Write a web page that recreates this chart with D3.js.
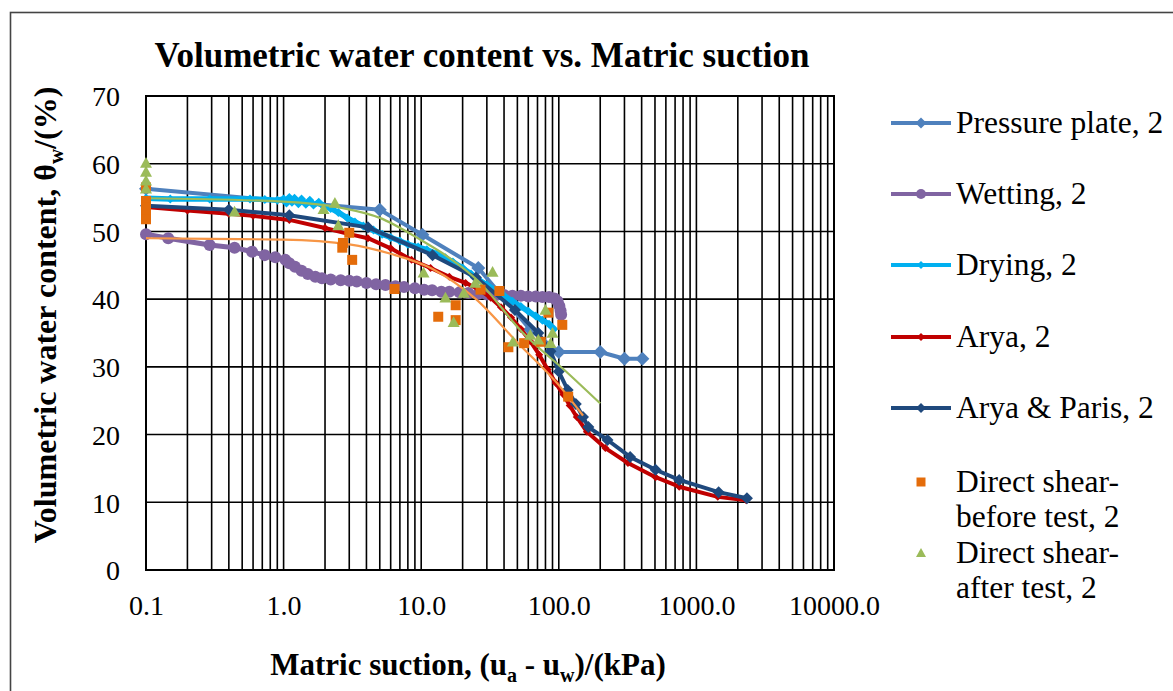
<!DOCTYPE html>
<html><head><meta charset="utf-8">
<script src="https://cdn.jsdelivr.net/npm/d3@7"></script>
<style>
html,body{margin:0;padding:0;background:#fff;overflow:hidden;}
text{font-family:"Liberation Serif","Times New Roman",serif;fill:#000;}
</style></head>
<body>
<svg id="chart" width="1173" height="691"></svg>
<script>
// ---------- DATA ----------
const xTickValues = [0.1, 1, 10, 100, 1000, 10000];
const xTickLabels = ["0.1", "1.0", "10.0", "100.0", "1000.0", "10000.0"];
const yTickValues = [0, 10, 20, 30, 40, 50, 60, 70];

const pressurePlate = [[0.1,56.3],[5.0,53.2],[10.2,49.5],[26,44.6],[62,35.5],[100,32.2],[200,32.2],[300,31.2],[405,31.2]];

const wetting = [[0.1,49.6],[0.145,49.0],[0.29,48.0],[0.44,47.6],[0.59,47.0],[0.73,46.5],[0.87,46.2],[1.03,45.8],[1.1,45.3],[1.21,44.8],[1.35,44.2],[1.5,43.7],[1.7,43.3],[1.9,43.1],[2.2,42.9],[2.6,42.8],[3.0,42.7],[3.4,42.6],[4.0,42.4],[4.7,42.2],[5.5,42.1],[6.5,41.9],[7.5,41.8],[9,41.6],[10.5,41.4],[12,41.3],[14,41.1],[16,41.1],[19,41.0],[22,40.9],[26,40.8],[30,40.7],[35,40.6],[40,40.6],[46,40.5],[53,40.5],[60,40.4],[68,40.4],[76,40.3],[85,40.3],[93,40.1],[98,39.7],[101,39.0],[103,38.3],[104,37.7]];

const drying = [[0.1,54.9],[0.15,54.8],[0.29,54.8],[0.57,54.8],[0.73,54.7],[0.9,54.6],[1.0,54.8],[1.05,54.2],[1.1,55.0],[1.15,54.3],[1.2,54.9],[1.28,54.1],[1.35,54.8],[1.45,54.0],[1.55,54.6],[1.65,53.9],[1.8,54.3],[1.95,53.7],[2.2,53.4],[2.5,52.8],[2.9,52.0],[3.3,51.4],[3.8,50.8],[4.5,50.2],[5.2,49.6],[6,49.1],[7,48.6],[8,48.1],[9.5,47.7],[11,47.3],[13,46.7],[15,46.1],[17,45.5],[20,44.6],[23,43.7],[26,42.9],[30,42.1],[35,41.3],[40,40.5],[46,39.7],[53,38.9],[60,38.2],[68,37.5],[76,36.9],[85,36.3],[92,35.6]];

const arya = [[0.1,53.6],[0.2,53.1],[0.4,52.6],[0.6,52.3],[1.1,51.7],[2,50.5],[3,49.6],[4.1,49.0],[6,47.5],[8.5,45.8],[11.7,44.6],[16,43.3],[21,42.4],[26,41.5],[32,40.2],[38,38.8],[45,37.3],[53,35.6],[62,33.8],[72,31.8],[83,29.6],[95,27.6],[108,25.9],[120,24.3],[135,22.6],[160,20.4],[218,18.0],[318,15.8],[505,13.7],[750,12.3],[1430,10.8],[2300,10.3]];

const aryaParis = [[0.1,53.8],[0.4,53.2],[1.1,52.4],[4.1,50.6],[12.1,46.5],[25,43.2],[48,38.4],[71,35.0],[87,32.3],[100,29.3],[116,26.6],[133,24.5],[150,22.6],[164,21.1],[226,19.2],[330,16.7],[505,14.8],[750,13.3],[1450,11.5],[2330,10.6]];

const shearBefore = [[0.1,56.5],[0.1,54.5],[0.1,53.5],[0.1,52.5],[0.1,51.8],[2.67,47.6],[2.7,48.3],[3.0,49.8],[3.15,45.8],[6.4,41.5],[13.3,37.4],[17.8,39.1],[17.8,36.9],[27,41.4],[37,41.2],[43,32.9],[56,33.5],[74,33.7],[84,38.0],[106,36.2],[117,25.6]];

const shearAfter = [[0.1,60.1],[0.1,58.8],[0.1,57.5],[0.1,56.3],[0.44,52.9],[1.95,53.3],[2.36,54.2],[2.5,50.9],[10.4,43.9],[15,40.2],[17.2,36.6],[20.4,40.9],[24.7,42.4],[33,44.0],[46.4,33.7],[62,34.7],[71,34.0],[80,38.4],[87,33.5],[90,35.0]];

const trendBefore = [[0.1,49.0],[0.3,48.9],[1,48.8],[3,48.1],[6,46.7],[12,44.5],[25,40.0],[50,33.6],[100,27.3],[150,22.8]];
const trendAfter = [[0.1,54.9],[1,54.4],[2.6,53.5],[5,52.0],[10,48.7],[16,46.1],[25.6,42.8],[55,35.0],[116,29.1],[200,24.6]];

const seriesNames = ["Pressure plate, 2","Wetting, 2","Drying, 2","Arya, 2","Arya & Paris, 2"];
const seriesColors = ["#4F81BD","#8064A2","#00B0F0","#C00000","#1F497D"];
const shearNames = [["Direct shear-","before test, 2"],["Direct shear-","after test, 2"]];
const shearColors = ["#E46C0A","#9BBB59"];
const trendColors = ["#F79646","#9BBB59"];

// ---------- CHART ----------
const svg = d3.select("#chart");
const L = 146, R = 834, T = 96, B = 570;
const x = d3.scaleLog().domain([0.1, 10000]).range([L, R]);
const y = d3.scaleLinear().domain([0, 70]).range([B, T]);

// outer frame
svg.append("rect").attr("x",10.5).attr("y",12.5).attr("width",1200).attr("height",700)
  .attr("fill","none").attr("stroke","#444").attr("stroke-width",1.6);

// title
svg.append("text").attr("x",482).attr("y",67).attr("text-anchor","middle")
  .style("font-size","35px").style("font-weight","bold")
  .text("Volumetric water content vs. Matric suction");

// gridlines
const grid = svg.append("g");
const minor = [];
for (let e = -1; e < 4; e++) for (let m = 1; m < 10; m++) minor.push(m * Math.pow(10, e));
minor.push(10000);
grid.selectAll("line.v").data(minor).join("line")
  .attr("x1", d => x(d)).attr("x2", d => x(d)).attr("y1", T).attr("y2", B)
  .attr("stroke","#000").attr("stroke-width",1.6);
grid.selectAll("line.h").data(yTickValues).join("line")
  .attr("x1", L).attr("x2", R).attr("y1", d => y(d)).attr("y2", d => y(d))
  .attr("stroke","#000").attr("stroke-width",1.6);
svg.append("rect").attr("x",L).attr("y",T).attr("width",R-L).attr("height",B-T)
  .attr("fill","none").attr("stroke","#000").attr("stroke-width",2);

// axes
const xAxis = d3.axisBottom(x).tickValues(xTickValues).tickSize(0)
  .tickFormat((d,i) => xTickLabels[i]);
const gx = svg.append("g").attr("transform",`translate(0,${B})`).call(xAxis);
gx.select(".domain").remove();
gx.selectAll("text").attr("dy",0).attr("y",45).style("font-size","28px").style("font-family","Liberation Serif");

const yAxis = d3.axisLeft(y).tickValues(yTickValues).tickSize(0);
const gy = svg.append("g").attr("transform",`translate(${L},0)`).call(yAxis);
gy.select(".domain").remove();
gy.selectAll("text").attr("x",-26).attr("dy","0.35em").style("font-size","28px").style("font-family","Liberation Serif");

// axis titles
const yt = svg.append("text").attr("transform","translate(56,315) rotate(-90)")
  .attr("text-anchor","middle").style("font-size","32px").style("font-weight","bold");
yt.append("tspan").text("Volumetric water content, θ");
yt.append("tspan").attr("dy",7).style("font-size","21px").text("w");
yt.append("tspan").attr("dy",-7).text("/(%)");

const xt = svg.append("text").attr("x",468).attr("y",675)
  .attr("text-anchor","middle").style("font-size","31px").style("font-weight","bold");
xt.append("tspan").text("Matric suction, (u");
xt.append("tspan").attr("dy",7).style("font-size","20px").text("a");
xt.append("tspan").attr("dy",-7).text(" - u");
xt.append("tspan").attr("dy",7).style("font-size","20px").text("w");
xt.append("tspan").attr("dy",-7).text(")/(kPa)");

// marker paths
const diamond = r => `M0,${-r}L${r},0L0,${r}L${-r},0Z`;
const square = r => `M${-r},${-r}H${r}V${r}H${-r}Z`;
const triangle = r => `M0,${-r}L${r},${r*0.8}L${-r},${r*0.8}Z`;

const line = d3.line().x(d => x(d[0])).y(d => y(d[1]));
const smooth = d3.line().x(d => x(d[0])).y(d => y(d[1])).curve(d3.curveMonotoneX);

const plot = svg.append("g");
function drawSeries(data, color, width, markerFn, mr) {
  plot.append("path").datum(data).attr("d", line).attr("fill","none")
    .attr("stroke", color).attr("stroke-width", width).attr("stroke-linejoin","round");
  const g = plot.append("g");
  if (markerFn === "circle") {
    g.selectAll("circle").data(data).join("circle")
      .attr("cx", d => x(d[0])).attr("cy", d => y(d[1])).attr("r", mr).attr("fill", color);
  } else {
    g.selectAll("path").data(data).join("path")
      .attr("transform", d => `translate(${x(d[0])},${y(d[1])})`).attr("d", markerFn(mr)).attr("fill", color);
  }
}
drawSeries(pressurePlate, seriesColors[0], 4, diamond, 7);
drawSeries(wetting, seriesColors[1], 5, "circle", 6);
drawSeries(drying, seriesColors[2], 5.5, diamond, 4.5);
drawSeries(arya, seriesColors[3], 4, diamond, 4);
drawSeries(aryaParis, seriesColors[4], 4, diamond, 6);

// trend lines
[trendBefore, trendAfter].forEach((t,i) => {
  plot.append("path").datum(t).attr("d", smooth).attr("fill","none")
    .attr("stroke", trendColors[i]).attr("stroke-width", 2.2);
});

// scatter
plot.append("g").selectAll("path").data(shearBefore).join("path")
  .attr("transform", d => `translate(${x(d[0])},${y(d[1])})`).attr("d", square(5)).attr("fill", shearColors[0]);
plot.append("g").selectAll("path").data(shearAfter).join("path")
  .attr("transform", d => `translate(${x(d[0])},${y(d[1])})`).attr("d", triangle(6)).attr("fill", shearColors[1]);

// legend
const leg = svg.append("g");
const legY = [123, 194, 265, 337, 408];
const legMarkers = [[diamond,5.5],[ "circle",5],[diamond,4],[diamond,4],[diamond,5]];
seriesNames.forEach((n,i) => {
  leg.append("line").attr("x1",891).attr("x2",951).attr("y1",legY[i]).attr("y2",legY[i])
    .attr("stroke",seriesColors[i]).attr("stroke-width",4);
  if (legMarkers[i][0] === "circle") leg.append("circle").attr("cx",921).attr("cy",legY[i]).attr("r",5).attr("fill",seriesColors[i]);
  else leg.append("path").attr("transform",`translate(921,${legY[i]})`).attr("d",legMarkers[i][0](legMarkers[i][1])).attr("fill",seriesColors[i]);
  leg.append("text").attr("x",956).attr("y",legY[i]+10).style("font-size","31.5px").text(n);
});
const shearY = [482, 553];
shearNames.forEach((n,i) => {
  if (i === 0) leg.append("path").attr("transform",`translate(921,${shearY[i]})`).attr("d",square(4.5)).attr("fill",shearColors[i]);
  else leg.append("path").attr("transform",`translate(921,${shearY[i]})`).attr("d",triangle(5)).attr("fill",shearColors[i]);
  leg.append("text").attr("x",956).attr("y",shearY[i]+10).style("font-size","31.5px").text(n[0]);
  leg.append("text").attr("x",956).attr("y",shearY[i]+45).style("font-size","31.5px").text(n[1]);
});
</script>
</body></html>
